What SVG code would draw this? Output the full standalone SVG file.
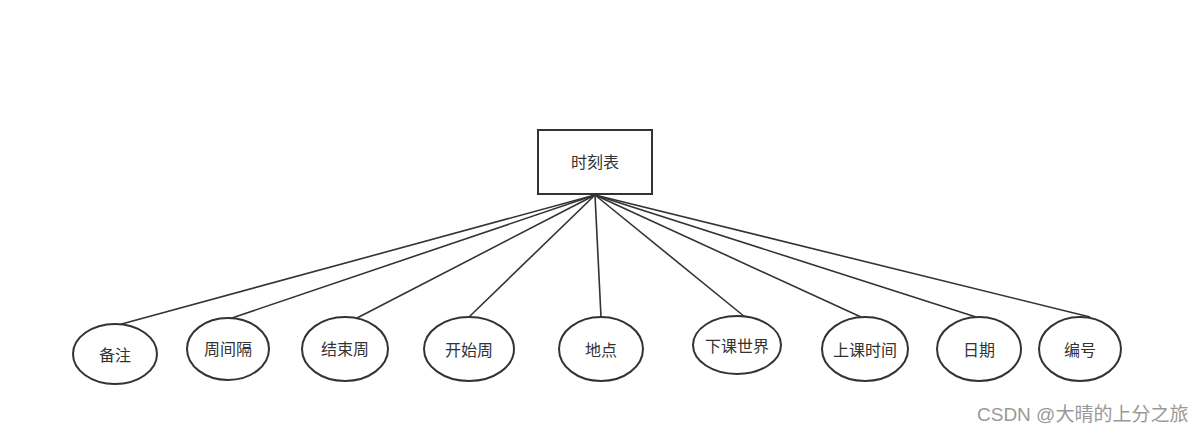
<svg xmlns="http://www.w3.org/2000/svg" width="1204" height="433" viewBox="0 0 1204 433">
<style>
.n{fill:#fff;stroke:#333;stroke-width:2}
.t{font-family:"Liberation Sans","Noto Sans CJK SC",sans-serif;font-size:16px;fill:#333;text-anchor:middle;dominant-baseline:central}
.e{stroke:#333;stroke-width:1.6;fill:none}
.w{font-family:"Liberation Sans","Noto Sans CJK SC",sans-serif;font-size:19px;fill:#999}
</style>
<rect width="1204" height="433" fill="#fff"/>
<g id="connectors">
<line class="e" x1="595" y1="195" x2="118" y2="325"/>
<line class="e" x1="595" y1="195" x2="229" y2="319"/>
<line class="e" x1="595" y1="195" x2="357" y2="318"/>
<line class="e" x1="595" y1="195" x2="469" y2="317"/>
<line class="e" x1="595" y1="195" x2="601" y2="317"/>
<line class="e" x1="595" y1="195" x2="745" y2="317"/>
<line class="e" x1="595" y1="195" x2="861" y2="317"/>
<line class="e" x1="595" y1="195" x2="976" y2="317"/>
<line class="e" x1="595" y1="195" x2="1090" y2="317"/>
</g>
<g id="root"><rect class="n" x="538" y="130" width="114" height="64"/><text class="t" x="595" y="162">时刻表</text></g>
<g id="n1"><ellipse class="n" cx="115" cy="354" rx="42" ry="30"/><text class="t" x="115" y="355">备注</text></g>
<g id="n2"><ellipse class="n" cx="228" cy="349" rx="41" ry="31"/><text class="t" x="228" y="349">周间隔</text></g>
<g id="n3"><ellipse class="n" cx="345" cy="349" rx="43" ry="32"/><text class="t" x="345" y="349">结束周</text></g>
<g id="n4"><ellipse class="n" cx="469" cy="349" rx="45" ry="32"/><text class="t" x="469" y="350">开始周</text></g>
<g id="n5"><ellipse class="n" cx="601" cy="349" rx="42" ry="32"/><text class="t" x="601" y="350">地点</text></g>
<g id="n6"><ellipse class="n" cx="737" cy="345" rx="44" ry="29"/><text class="t" x="737" y="346">下课世界</text></g>
<g id="n7"><ellipse class="n" cx="865" cy="349" rx="43" ry="32"/><text class="t" x="865" y="350">上课时间</text></g>
<g id="n8"><ellipse class="n" cx="979" cy="349" rx="42" ry="32"/><text class="t" x="979" y="350">日期</text></g>
<g id="n9"><ellipse class="n" cx="1080" cy="349" rx="41" ry="32"/><text class="t" x="1080" y="350">编号</text></g>
<text class="w" x="977" y="421">CSDN @大晴的上分之旅</text>
</svg>
